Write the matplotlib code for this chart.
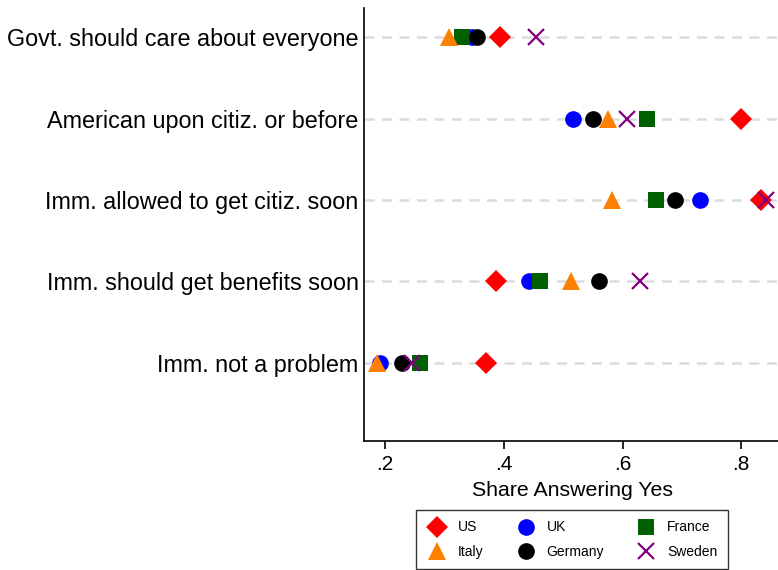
import matplotlib.pyplot as plt

# data
questions = [
    "Govt. should care about everyone",
    "American upon citiz. or before",
    "Imm. allowed to get citiz. soon",
    "Imm. should get benefits soon",
    "Imm. not a problem",
]
us = [0.393, 0.799, 0.833, 0.387, 0.370]
uk = [0.347, 0.516, 0.730, 0.442, 0.192]
france = [0.330, 0.641, 0.657, 0.461, 0.258]
italy = [0.308, 0.576, 0.582, 0.514, 0.187]
germany = [0.354, 0.550, 0.688, 0.560, 0.229]
sweden = [0.455, 0.607, 0.842, 0.630, 0.246]

xticks = [0.2, 0.4, 0.6, 0.8]
xtick_labels = [".2", ".4", ".6", ".8"]

plt.rcParams["font.family"] = ["Liberation Sans", "DejaVu Sans"]

fig = plt.figure(figsize=(7.78, 5.70), dpi=100)
ax = fig.add_axes([0.468, 0.2263, 0.535, 0.7597])

ypos = [5, 4, 3, 2, 1]

# dashed grid lines at each question
for y in ypos:
    ax.axhline(y, color="#dcdcdc", lw=1.8, ls=(0, (4, 3)), zorder=0)

series = [
    ("US", us, "D", "#ff0000", 11.5),
    ("UK", uk, "o", "#0000ff", 12),
    ("France", france, "s", "#006000", 12),
    ("Italy", italy, "^", "#ff7f00", 13),
    ("Germany", germany, "o", "black", 12),
    ("Sweden", sweden, "x", "#800080", 11),
]

handles = {}
for i, (name, vals, mk, col, ms) in enumerate(series):
    h, = ax.plot(vals, ypos, ls="none", marker=mk, color=col, ms=ms,
                 mew=1.6 if mk == "x" else 0, label=name, zorder=2 + i)
    handles[name] = h

ax.set_xlim(0.1645, 0.866)
ax.set_ylim(0.04, 5.36)
ax.set_yticks(ypos)
ax.set_yticklabels(questions, fontsize=16.8)
ax.tick_params(axis="y", length=0, pad=4)
ax.set_xticks(xticks)
ax.set_xticklabels(xtick_labels, fontsize=15)
ax.tick_params(axis="x", length=6, width=1.2, pad=4)
ax.set_xlabel("Share Answering Yes", fontsize=15.3, labelpad=5)

ax.spines["top"].set_visible(False)
ax.spines["right"].set_visible(False)
ax.spines["left"].set_linewidth(1.2)
ax.spines["bottom"].set_linewidth(1.2)

# legend: rows US/UK/France, Italy/Germany/Sweden
order = ["US", "Italy", "UK", "Germany", "France", "Sweden"]
leg = fig.legend([handles[n] for n in order], order, ncol=3,
                 loc="upper left", bbox_to_anchor=(416 / 778, 1 - 510 / 570),
                 borderaxespad=0, fontsize=10, frameon=True, fancybox=False,
                 edgecolor="black", handlelength=1.5, handletextpad=0.75,
                 columnspacing=2.3, borderpad=0.75, labelspacing=0.75)
leg.get_frame().set_linewidth(1.0)

fig.savefig("out.png", dpi=100)
